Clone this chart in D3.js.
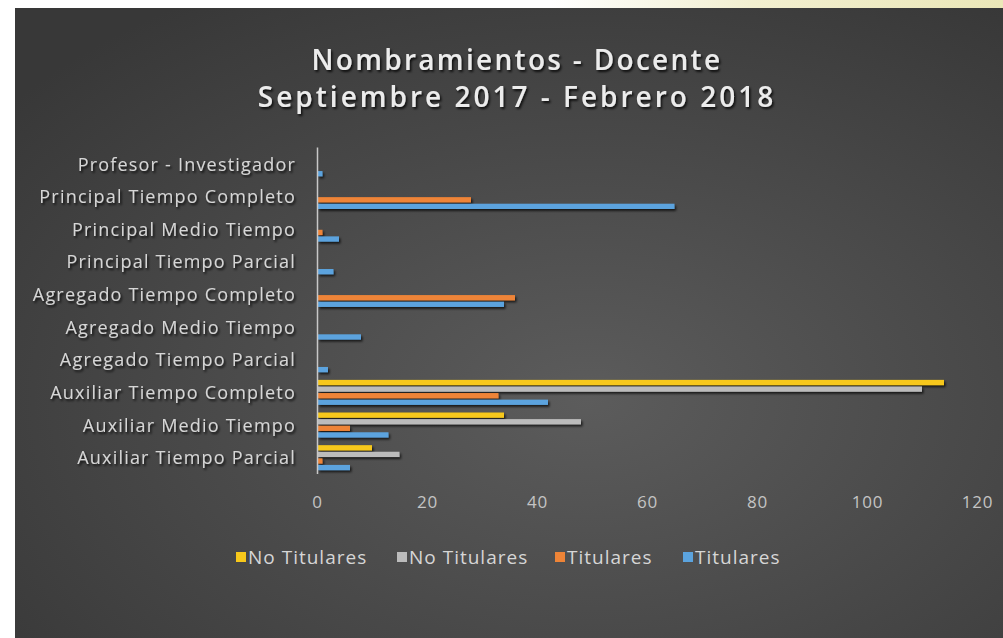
<!DOCTYPE html>
<html lang="es">
<head>
<meta charset="UTF-8">
<title>Nombramientos - Docente</title>
<style>
    body { margin: 0; padding: 0; overflow: hidden; background: #fff; }
    #chart { width: 1003px; height: 638px; }
    text { font-family: "Open Sans", "Noto Sans", sans-serif; }
</style>
</head>
<body>
<div id="chart"><svg id="graph"></svg></div>
<script src="https://cdnjs.cloudflare.com/ajax/libs/d3/7.8.5/d3.min.js"></script>
<script>
    // categories bottom -> top (as in the original Excel chart)
    const categories = ["Auxiliar Tiempo Parcial", "Auxiliar Medio Tiempo", "Auxiliar Tiempo Completo",
        "Agregado Tiempo Parcial", "Agregado Medio Tiempo", "Agregado Tiempo Completo",
        "Principal Tiempo Parcial", "Principal Medio Tiempo", "Principal Tiempo Completo",
        "Profesor - Investigador"];
    const titularesAzul = [6, 13, 42, 2, 8, 34, 3, 4, 65, 1];
    const titularesNaranja = [1, 6, 33, 0, 0, 36, 0, 1, 28, 0];
    const noTitularesGris = [15, 48, 110, 0, 0, 0, 0, 0, 0, 0];
    const noTitularesAmarillo = [10, 34, 114, 0, 0, 0, 0, 0, 0, 0];
    const xTicks = [0, 20, 40, 60, 80, 100, 120];
    const titleLines = ["Nombramientos - Docente", "Septiembre 2017 - Febrero 2018"];

    // legend order (top bar first inside each group)
    const series = [
        {name: "No Titulares", values: noTitularesAmarillo, color: "#f7c81b"},
        {name: "No Titulares", values: noTitularesGris, color: "#bcbcbc"},
        {name: "Titulares", values: titularesNaranja, color: "#ee8437"},
        {name: "Titulares", values: titularesAzul, color: "#5ba3de"}
    ];

    const W = 1003, H = 638;
    const svg = d3.select("#graph").attr("width", W).attr("height", H);
    const defs = svg.append("defs");

    const bg = defs.append("radialGradient").attr("id", "bg")
        .attr("cx", "0.58").attr("cy", "0.62").attr("r", "0.75");
    bg.append("stop").attr("offset", "0%").attr("stop-color", "#5c5c5c");
    bg.append("stop").attr("offset", "100%").attr("stop-color", "#383838");

    const strip = defs.append("linearGradient").attr("id", "strip");
    strip.append("stop").attr("offset", "55%").attr("stop-color", "#ffffff");
    strip.append("stop").attr("offset", "75%").attr("stop-color", "#f2efd0");
    strip.append("stop").attr("offset", "100%").attr("stop-color", "#ebe7b8");

    const shadow = defs.append("filter").attr("id", "shadow")
        .attr("x", "-10%").attr("y", "-50%").attr("width", "120%").attr("height", "250%");
    shadow.append("feDropShadow").attr("dx", 1.5).attr("dy", 2).attr("stdDeviation", 1.2)
        .attr("flood-color", "#000").attr("flood-opacity", 0.7);

    const tshadow = defs.append("filter").attr("id", "tshadow");
    tshadow.append("feDropShadow").attr("dx", 1.5).attr("dy", 2).attr("stdDeviation", 1.2)
        .attr("flood-color", "#000").attr("flood-opacity", 0.8);

    // page background and chart panel
    svg.append("rect").attr("x", 0).attr("y", 0).attr("width", W).attr("height", 9).attr("fill", "url(#strip)");
    svg.append("rect").attr("x", 15).attr("y", 8).attr("width", W - 15).attr("height", H - 8).attr("fill", "url(#bg)");

    // title
    const titleSpacing = [2.3, 3.0];
    svg.append("g").selectAll("text")
        .data(titleLines)
        .enter().append("text")
        .attr("x", 517)
        .attr("y", (d, i) => 70 + i * 37)
        .attr("text-anchor", "middle")
        .attr("font-size", 28)
        .attr("font-weight", 600)
        .attr("letter-spacing", (d, i) => titleSpacing[i])
        .attr("fill", "#ececec")
        .attr("filter", "url(#tshadow)")
        .text(d => d);

    const x = d3.scaleLinear().domain([0, 120]).range([317, 977]);
    const y = d3.scaleBand().domain(categories.slice().reverse()).range([147, 473.5]).paddingInner(0).paddingOuter(0);
    const ySub = d3.scaleBand().domain(d3.range(series.length)).range([3, y.bandwidth() - 2]).padding(0.2);

    // bars
    const groups = svg.append("g").selectAll(".serie")
        .data(series)
        .enter().append("g")
        .attr("class", "serie")
        .attr("fill", d => d.color)
        .attr("filter", "url(#shadow)");
    groups.each(function (s, si) {
        d3.select(this).selectAll("rect")
            .data(s.values.map((v, i) => ({cat: categories[i], v: v})).filter(d => d.v > 0))
            .enter().append("rect")
            .attr("x", x(0) + 1)
            .attr("y", d => y(d.cat) + ySub(si))
            .attr("width", d => x(d.v) - x(0) - 1)
            .attr("height", ySub.bandwidth());
    });

    // category axis
    const yAxis = svg.append("g")
        .attr("transform", `translate(${x(0)},0)`)
        .call(d3.axisLeft(y).tickSize(0).tickPadding(21));
    yAxis.select(".domain").attr("stroke", "#c8c8c8").attr("stroke-width", 1.5);
    yAxis.selectAll("text")
        .attr("font-size", 18)
        .attr("fill", "#d6d6d6")
        .attr("letter-spacing", 1.2)
        .attr("dy", "0.4em")
        .attr("filter", "url(#tshadow)");

    // value axis (labels only)
    const xAxis = svg.append("g")
        .attr("transform", "translate(0,492)")
        .call(d3.axisBottom(x).tickValues(xTicks).tickSize(0).tickPadding(0));
    xAxis.select(".domain").remove();
    xAxis.selectAll("text")
        .attr("font-size", 17)
        .attr("letter-spacing", 0.8)
        .attr("fill", "#c4c4c4")
        .attr("dy", "0.95em");

    // legend
    const legendX = [236, 397, 555, 683];
    const legend = svg.append("g").selectAll(".leg")
        .data(series)
        .enter().append("g")
        .attr("class", "leg")
        .attr("transform", (d, i) => `translate(${legendX[i]},557)`);
    legend.append("rect")
        .attr("x", 0).attr("y", -5).attr("width", 10).attr("height", 10)
        .attr("fill", d => d.color);
    legend.append("text")
        .attr("x", 12).attr("y", 0).attr("dy", "0.35em")
        .attr("font-size", 19)
        .attr("letter-spacing", 1.0)
        .attr("fill", "#d6d6d6")
        .text(d => d.name);
</script>
</body>
</html>
